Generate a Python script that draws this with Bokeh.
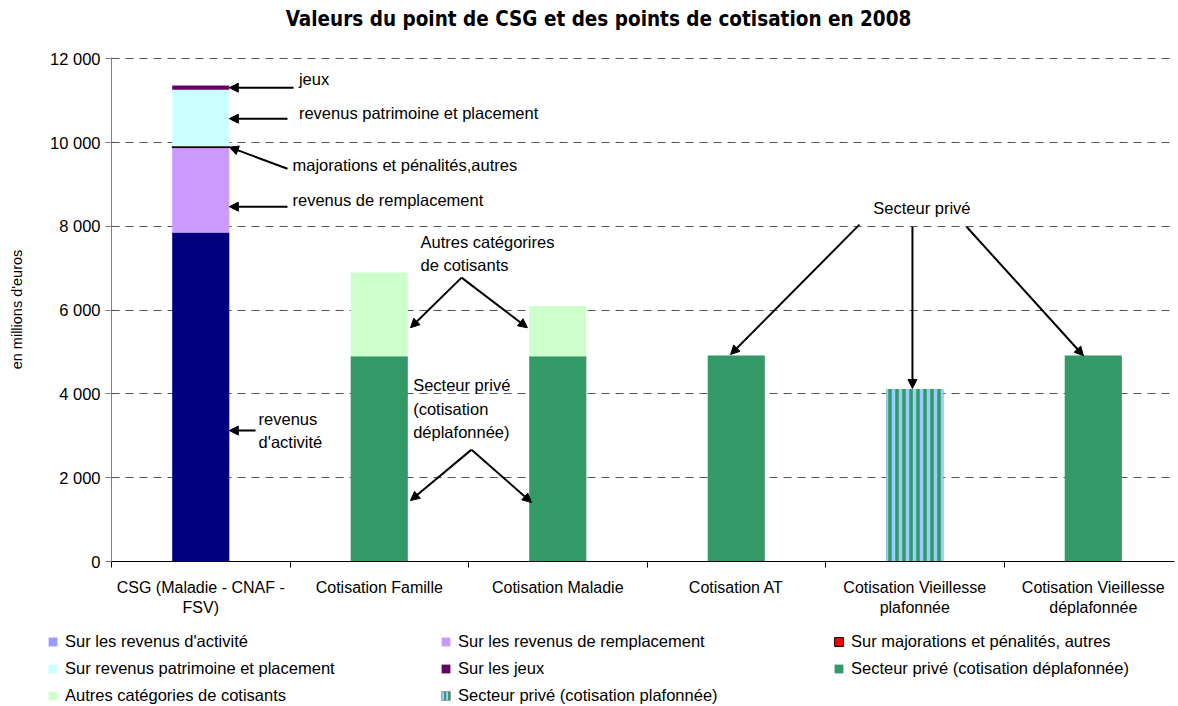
import numpy as np
from bokeh.plotting import figure
from bokeh.layouts import column
from bokeh.models import (Range1d, FixedTicker, Legend, LegendItem, Label, Arrow,
                          NormalHead)
from bokeh.embed import file_html
from bokeh.resources import INLINE

# ---------------- data ----------------
categories = ["CSG (Maladie - CNAF - FSV)", "Cotisation Famille", "Cotisation Maladie",
              "Cotisation AT", "Cotisation Vieillesse plafonnée",
              "Cotisation Vieillesse déplafonnée"]
category_labels = ["CSG (Maladie - CNAF -\nFSV)", "Cotisation Famille", "Cotisation Maladie",
                   "Cotisation AT", "Cotisation Vieillesse\nplafonnée",
                   "Cotisation Vieillesse\ndéplafonnée"]

revenus_activite = [7850, 0, 0, 0, 0, 0]
revenus_remplacement = [2030, 0, 0, 0, 0, 0]
majorations_autres = [30, 0, 0, 0, 0, 0]
revenus_patrimoine = [1350, 0, 0, 0, 0, 0]
jeux = [100, 0, 0, 0, 0, 0]
secteur_prive_deplaf = [0, 4900, 4900, 4920, 0, 4920]
autres_categories = [0, 2000, 1200, 0, 0, 0]
secteur_prive_plaf = [0, 0, 0, 0, 4120, 0]

y_ticks = [0, 2000, 4000, 6000, 8000, 10000, 12000]
y_tick_labels = ["0", "2 000", "4 000", "6 000", "8 000", "10 000", "12 000"]

TITLE = "Valeurs du point de CSG et des points de cotisation en 2008"

series = [
    ("Sur les revenus d'activité", revenus_activite, "#000080"),
    ("Sur les revenus de remplacement", revenus_remplacement, "#CC99FF"),
    ("Sur majorations et pénalités, autres", majorations_autres, "#FF0000"),
    ("Sur revenus patrimoine et placement", revenus_patrimoine, "#CCFFFF"),
    ("Sur les jeux", jeux, "#660066"),
    ("Secteur privé (cotisation déplafonnée)", secteur_prive_deplaf, "#339966"),
    ("Autres catégories de cotisants", autres_categories, "#CCFFCC"),
    ("Secteur privé (cotisation plafonnée)", secteur_prive_plaf, "#339966"),
]
legend_labels = [s[0] for s in series]
swatch_colors = ["#9999FF", "#CC99FF", "#FF0000", "#CCFFFF", "#660066", "#339966",
                 "#CCFFCC", "#339966"]

FONT = "Liberation Sans"
FS = "16.5px"
BAR_W = 0.32
W = 1176


def bare(height):
    f = figure(width=W, height=height, output_backend="svg", toolbar_location=None,
               x_range=Range1d(0, 1), y_range=Range1d(0, 1),
               min_border_left=0, min_border_right=0, min_border_top=0,
               min_border_bottom=0)
    f.axis.visible = False
    f.grid.visible = False
    f.outline_line_color = None
    f.title.visible = False
    f.frame_align = False
    return f


# ---------------- title ----------------
pt = bare(36)
pt.add_layout(Label(x=598, y=18, x_units="screen", y_units="screen", text=TITLE,
                    text_font="'DejaVu Sans Condensed', 'Liberation Sans', sans-serif",
                    text_font_style="bold", text_font_size="20.5px", text_color="black",
                    text_align="center", text_baseline="middle"))

# ---------------- main chart ----------------
p = figure(width=W, height=583, output_backend="svg", toolbar_location=None,
           x_range=Range1d(0, 5.955), y_range=Range1d(0, 12030),
           min_border_left=111, min_border_right=2, min_border_top=21,
           min_border_bottom=58)
p.outline_line_color = None
p.title.visible = False
p.frame_align = False

xs = np.arange(len(categories)) + 0.5
bottom = np.zeros(len(categories))
for name, vals, color in series:
    vals = np.array(vals, dtype=float)
    top = bottom + vals
    kw = dict(x=xs, bottom=bottom.copy(), top=top, width=BAR_W, fill_color=color,
              line_color=None)
    if name.startswith("Sur majorations"):
        kw.update(line_color="black", line_width=1)
    if name.endswith("plafonnée)") and "déplaf" not in name:
        kw.update(hatch_pattern="|", hatch_color="#99CCFF", hatch_scale=7,
                  hatch_weight=3.5)
    p.vbar(**kw)
    bottom = top

p.xgrid.visible = False
p.ygrid.ticker = FixedTicker(ticks=y_ticks)
p.ygrid.grid_line_color = "#555555"
p.ygrid.grid_line_dash = "8 6"
p.ygrid.grid_line_width = 1

p.yaxis.ticker = FixedTicker(ticks=y_ticks)
p.yaxis.major_label_overrides = {t: l for t, l in zip(y_ticks, y_tick_labels)}
p.yaxis.minor_tick_line_color = None
p.yaxis.axis_line_color = "#808080"
p.yaxis.major_tick_line_color = "#808080"
p.yaxis.major_tick_in = 0
p.yaxis.major_tick_out = 6
p.yaxis.major_label_text_font = FONT
p.yaxis.major_label_text_font_size = FS
p.yaxis.major_label_text_color = "black"
p.yaxis.axis_label = "en millions d'euros"
p.yaxis.axis_label_text_font = FONT
p.yaxis.axis_label_text_font_size = "14.5px"
p.yaxis.axis_label_text_font_style = "normal"
p.yaxis.axis_label_text_color = "black"
p.yaxis.axis_label_standoff = 22

p.xaxis.ticker = FixedTicker(ticks=list(xs), minor_ticks=list(range(len(categories) + 1)))
p.xaxis.major_label_overrides = {float(x): l for x, l in zip(xs, category_labels)}
p.xaxis.major_tick_line_color = None
p.xaxis.major_tick_in = 0
p.xaxis.major_tick_out = 0
p.xaxis.minor_tick_in = 0
p.xaxis.minor_tick_out = 6
p.xaxis.minor_tick_line_color = "black"
p.xaxis.axis_line_color = "black"
p.xaxis.major_label_standoff = 11
p.xaxis.major_label_text_font = FONT
p.xaxis.major_label_text_font_size = "16px"
p.xaxis.major_label_text_color = "black"

# annotations
bar_right = xs[0] + BAR_W / 2


def lab(x, y, t, align="left"):
    p.add_layout(Label(x=x, y=y, text=t, text_font=FONT, text_font_size=FS,
                       text_color="black", text_baseline="middle", text_align=align))


def arr(x0, y0, x1, y1):
    p.add_layout(Arrow(end=NormalHead(size=9, fill_color="black", line_color="black"),
                       x_start=x0, y_start=y0, x_end=x1, y_end=y1,
                       line_width=2, line_color="black"))


lab(1.05, 11520, "jeux")
arr(1.02, 11310, bar_right, 11310)
lab(1.05, 10710, "revenus patrimoine et placement")
arr(0.986, 10570, bar_right, 10570)
lab(1.014, 9470, "majorations et pénalités,autres")
arr(0.986, 9375, bar_right, 9890)
lab(1.014, 8640, "revenus de remplacement")
arr(0.986, 8470, bar_right, 8470)
lab(0.824, 3410, "revenus")
lab(0.824, 2860, "d'activité")
arr(0.807, 3125, bar_right, 3125)

lab(1.731, 7630, "Autres catégorires")
lab(1.731, 7085, "de cotisants")
arr(1.961, 6775, xs[1] + BAR_W / 2 + 0.015, 5580)
arr(1.961, 6775, xs[2] - BAR_W / 2 - 0.01, 5580)

lab(1.69, 4220, "Secteur privé")
lab(1.69, 3650, "(cotisation")
lab(1.69, 3100, "déplafonnée)")
arr(2.017, 2670, xs[1] + BAR_W / 2 + 0.015, 1455)
arr(2.017, 2670, xs[2] - BAR_W / 2 + 0.013, 1410)

lab(4.54, 8445, "Secteur privé", align="center")
arr(4.19, 8040, 3.468, 4940)
arr(4.487, 7990, 4.487, 4130)
arr(4.79, 7990, 5.445, 4910)

# ---------------- legend ----------------
pl = bare(86)
items = []
for i, (lbl, col) in enumerate(zip(legend_labels, swatch_colors)):
    kw = dict(fill_color=col, line_color=None)
    if i == 2:
        kw.update(line_color="black", line_width=1)
    if i == 7:
        kw.update(hatch_pattern="|", hatch_color="#99CCFF", hatch_scale=4,
                  hatch_weight=2, line_color="#999999", line_width=1)
    # swatch-only renderer placed outside the visible range
    r = pl.vbar(x=[5], bottom=[5], top=[5.1], width=0.1, **kw)
    items.append(LegendItem(label=lbl, renderers=[r]))

# legend is filled column by column: reorder so it reads row by row
ncols = 3
nrows = int(np.ceil(len(items) / ncols))
ordered = [items[r * ncols + c] for c in range(ncols) for r in range(nrows)
           if r * ncols + c < len(items)]

legend = Legend(items=ordered, ncols=ncols, location=(47, 0), glyph_width=11,
                glyph_height=11, label_standoff=7, label_width=367, spacing=8,
                label_text_font=FONT, label_text_font_size=FS,
                label_text_color="black",
                border_line_color=None, background_fill_alpha=0, padding=0, margin=0)
pl.add_layout(legend, "center")

layout = column(pt, p, pl, spacing=0)
open("out.html", "w").write(file_html(layout, INLINE))
